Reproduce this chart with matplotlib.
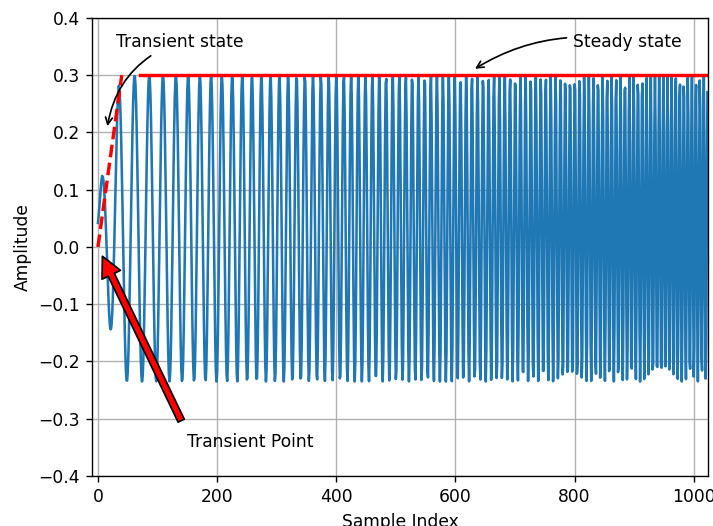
import numpy as np
import matplotlib
matplotlib.use("Agg")
import matplotlib.pyplot as plt

# Signal description (linear chirp with a short start-up)
n_samples = 1024
start_freq = 0.032        # cycles / sample near index 0
end_freq = 0.152          # cycles / sample near index 1023
peak_level = 0.30         # steady-state maximum
trough_level = -0.235     # steady-state minimum
first_peak_index = 35     # index of first full peak
# start-up envelope read at the first extrema
env_index = [0, 7, 20, 35, 48]
env_value = [0.1, 0.35, 0.64, 0.93, 1.0]

# Annotation values
steady_level = 0.3
steady_start = 70
transient_end = 40
x_ticks = [0, 200, 400, 600, 800, 1000]
y_ticks = [-0.4, -0.3, -0.2, -0.1, 0.0, 0.1, 0.2, 0.3, 0.4]

n = np.arange(n_samples)
k = (end_freq - start_freq) / (n_samples - 1)
cycles = start_freq * n + 0.5 * k * n ** 2
cyc0 = start_freq * first_peak_index + 0.5 * k * first_peak_index ** 2
center = 0.5 * (peak_level + trough_level)
amp = 0.5 * (peak_level - trough_level)
env = np.interp(n, env_index, env_value)
signal = center + amp * env * np.cos(2 * np.pi * (cycles - cyc0))

DPI = 123
fig = plt.figure(figsize=(713 / DPI, 526 / DPI), dpi=DPI)
ax = fig.add_axes([0.129, 0.095, 0.864, 0.871])
ax.plot(n, signal, color="#1f77b4", lw=1.5)
ax.plot([steady_start, n_samples - 1], [steady_level, steady_level], color="red", lw=2)
ax.plot([0, transient_end], [0, steady_level], color="red", lw=2, ls="--")

ax.annotate("Transient state", xy=(15, 0.205), xytext=(30, 0.35),
            arrowprops=dict(arrowstyle="->", color="black", lw=1,
                            connectionstyle="arc3,rad=0.3"))
ax.annotate("Steady state", xy=(628, 0.308), xytext=(798, 0.35),
            arrowprops=dict(arrowstyle="->", color="black", lw=1,
                            connectionstyle="arc3,rad=0.2"))
ax.annotate("Transient Point", xy=(0, 0), xytext=(150, -0.35),
            arrowprops=dict(facecolor="red", edgecolor="black", shrink=0.05))

ax.set_xlim(-10, 1024)
ax.set_ylim(-0.4, 0.4)
ax.set_xticks(x_ticks)
ax.set_yticks(y_ticks)
ax.set_xlabel("Sample Index")
ax.set_ylabel("Amplitude")
ax.grid(True)
fig.savefig("out.png", dpi=DPI)
